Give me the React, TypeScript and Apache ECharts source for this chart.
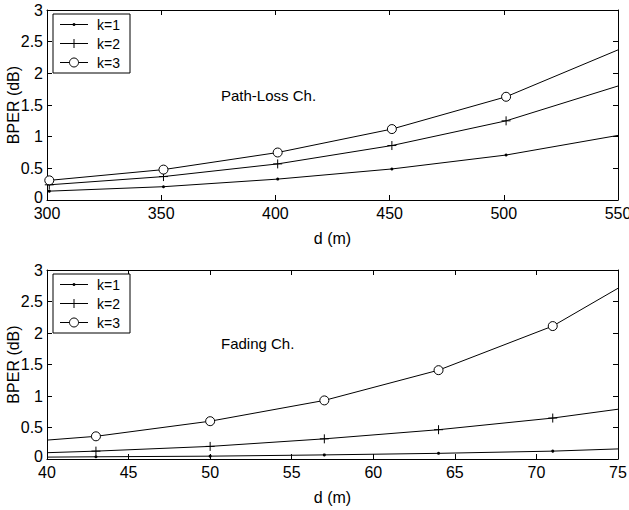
import React, { useEffect, useRef } from "react";
import * as echarts from "echarts";

// ---- Data ----
const legendNames = ["k=1", "k=2", "k=3"];

// Path-loss channel (top plot)
const plDist = [300, 301, 351, 401, 451, 501, 550];
const plMarked = [false, true, true, true, true, true, false];
const plK1 = [0.14, 0.14, 0.21, 0.33, 0.49, 0.71, 1.02];
const plK2 = [0.24, 0.24, 0.37, 0.57, 0.86, 1.25, 1.8];
const plK3 = [0.3, 0.31, 0.48, 0.75, 1.12, 1.63, 2.37];

// Fading channel (bottom plot)
const fdDist = [40, 43, 50, 57, 64, 71, 75];
const fdMarked = [false, true, true, true, true, true, false];
const fdK1 = [0.03, 0.035, 0.045, 0.065, 0.09, 0.125, 0.16];
const fdK2 = [0.1, 0.125, 0.2, 0.32, 0.465, 0.65, 0.79];
const fdK3 = [0.3, 0.36, 0.6, 0.93, 1.41, 2.11, 2.71];

const plXRange = [300, 550, 50];
const fdXRange = [40, 75, 5];
const yRange = [0, 3, 0.5];

const annotations = ["Path-Loss Ch.", "Fading Ch."];
const xName = "d (m)";
const yName = "BPER (dB)";

const FONT = "'Liberation Sans', Arial, Helvetica, sans-serif";
const BLACK = "#000";

const PLUS = "path://M0,5L10,5M5,0L5,10";
const RING = "path://M10,5A5,5 0 1 1 0,5A5,5 0 1 1 10,5Z";

const symbolStyles = [
  { symbol: "circle", symbolSize: 3, itemStyle: { color: BLACK, borderWidth: 0 } },
  { symbol: PLUS, symbolSize: 9, itemStyle: { color: BLACK, borderColor: BLACK, borderWidth: 1 } },
  { symbol: RING, symbolSize: 9, itemStyle: { color: "#fff", borderColor: BLACK, borderWidth: 1 } },
];

function mkData(xs: number[], ys: number[], marked: boolean[]) {
  return xs.map((x, i) => {
    const item: any = { value: [x, ys[i]] };
    if (!marked[i]) item.symbol = "none";
    return item;
  });
}

function legendGraphic(x0: number, y0: number) {
  const children: any[] = [
    {
      type: "rect",
      z: 100,
      shape: { x: x0, y: y0, width: 77, height: 59 },
      style: { fill: "#fff", stroke: BLACK, lineWidth: 1 },
    },
  ];
  legendNames.forEach((name, i) => {
    const cy = y0 + 10.5 + i * 19;
    children.push({
      type: "line",
      z: 101,
      shape: { x1: x0 + 7, y1: cy, x2: x0 + 35, y2: cy },
      style: { stroke: BLACK, lineWidth: 1 },
    });
    const cx = x0 + 21;
    if (i === 0) {
      children.push({ type: "circle", z: 102, shape: { cx, cy, r: 1.5 }, style: { fill: BLACK } });
    } else if (i === 1) {
      children.push({
        type: "line",
        z: 102,
        shape: { x1: cx, y1: cy - 4.5, x2: cx, y2: cy + 4.5 },
        style: { stroke: BLACK, lineWidth: 1 },
      });
    } else {
      children.push({
        type: "circle",
        z: 102,
        shape: { cx, cy, r: 4.5 },
        style: { fill: "#fff", stroke: BLACK, lineWidth: 1 },
      });
    }
    children.push({
      type: "text",
      z: 102,
      x: x0 + 44,
      y: cy,
      style: { text: name, font: `14px ${FONT}`, fill: BLACK, verticalAlign: "middle", align: "left" },
    });
  });
  return { type: "group", z: 100, children };
}

function xAxes(gridIndex: number, range: number[]) {
  const common = {
    gridIndex,
    type: "value",
    min: range[0],
    max: range[1],
    interval: range[2],
    splitLine: { show: false },
    axisLine: { show: true, onZero: false, lineStyle: { color: BLACK, width: 1 } },
    axisTick: { show: true, inside: true, length: 5, lineStyle: { color: BLACK } },
  };
  return [
    {
      ...common,
      position: "bottom",
      name: xName,
      nameLocation: "middle",
      nameGap: 30,
      nameMoveOverlap: false,
      nameTextStyle: { fontFamily: FONT, fontSize: 16, color: BLACK },
      axisLabel: { show: true, fontFamily: FONT, fontSize: 16, color: BLACK, margin: 5 },
    },
    { ...common, position: "top", axisLabel: { show: false } },
  ];
}

function yAxes(gridIndex: number) {
  const common = {
    gridIndex,
    type: "value",
    min: yRange[0],
    max: yRange[1],
    interval: yRange[2],
    splitLine: { show: false },
    axisLine: { show: true, onZero: false, lineStyle: { color: BLACK, width: 1 } },
    axisTick: { show: true, inside: true, length: 5, lineStyle: { color: BLACK } },
  };
  return [
    {
      ...common,
      position: "left",
      name: yName,
      nameLocation: "middle",
      nameGap: 26,
      nameMoveOverlap: false,
      nameTextStyle: { fontFamily: FONT, fontSize: 16, color: BLACK },
      axisLabel: {
        show: true,
        fontFamily: FONT,
        fontSize: 16,
        color: BLACK,
        margin: 4,
        formatter: (v: number) => (v === 0 ? "{z|0}" : String(v)),
        rich: { z: { fontFamily: FONT, fontSize: 16, color: BLACK, padding: [0, 0, 5, 0] } },
      },
    },
    { ...common, position: "right", axisLabel: { show: false } },
  ];
}

function mkSeries(
  xAxisIndex: number,
  yAxisIndex: number,
  xs: number[],
  ys: number[][],
  marked: boolean[]
) {
  return ys.map((vals, k) => ({
    type: "line",
    name: legendNames[k],
    xAxisIndex,
    yAxisIndex,
    data: mkData(xs, vals, marked),
    smooth: false,
    showSymbol: true,
    showAllSymbol: true,
    ...symbolStyles[k],
    lineStyle: { color: BLACK, width: 1 },
    z: 3,
  }));
}

export default function App() {
  const ref = useRef<HTMLDivElement>(null);
  useEffect(() => {
    document.body.style.margin = "0";
    const chart = echarts.init(ref.current!, undefined, { renderer: "svg" });
    const option: any = {
      animation: false,
      backgroundColor: "#fff",
      textStyle: { fontFamily: FONT },
      grid: [
        { left: 47, top: 10, width: 571, height: 190, containLabel: false, outerBoundsMode: "none" },
        { left: 47, top: 270, width: 571, height: 189, containLabel: false, outerBoundsMode: "none" },
      ],
      xAxis: [...xAxes(0, plXRange), ...xAxes(1, fdXRange)],
      yAxis: [...yAxes(0), ...yAxes(1)],
      series: [
        ...mkSeries(0, 0, plDist, [plK1, plK2, plK3], plMarked),
        ...mkSeries(2, 2, fdDist, [fdK1, fdK2, fdK3], fdMarked),
      ],
      graphic: [
        legendGraphic(53, 14),
        legendGraphic(53, 274),
        {
          type: "text",
          x: 221,
          y: 95,
          z: 100,
          style: { text: annotations[0], font: `15px ${FONT}`, fill: BLACK, verticalAlign: "middle" },
        },
        {
          type: "text",
          x: 221,
          y: 343,
          z: 100,
          style: { text: annotations[1], font: `15px ${FONT}`, fill: BLACK, verticalAlign: "middle" },
        },
      ],
    };
    chart.setOption(option);
    return () => chart.dispose();
  }, []);
  return (
    <div
      ref={ref}
      style={{ position: "absolute", left: 0, top: 0, width: 629, height: 510, background: "#fff" }}
    />
  );
}
